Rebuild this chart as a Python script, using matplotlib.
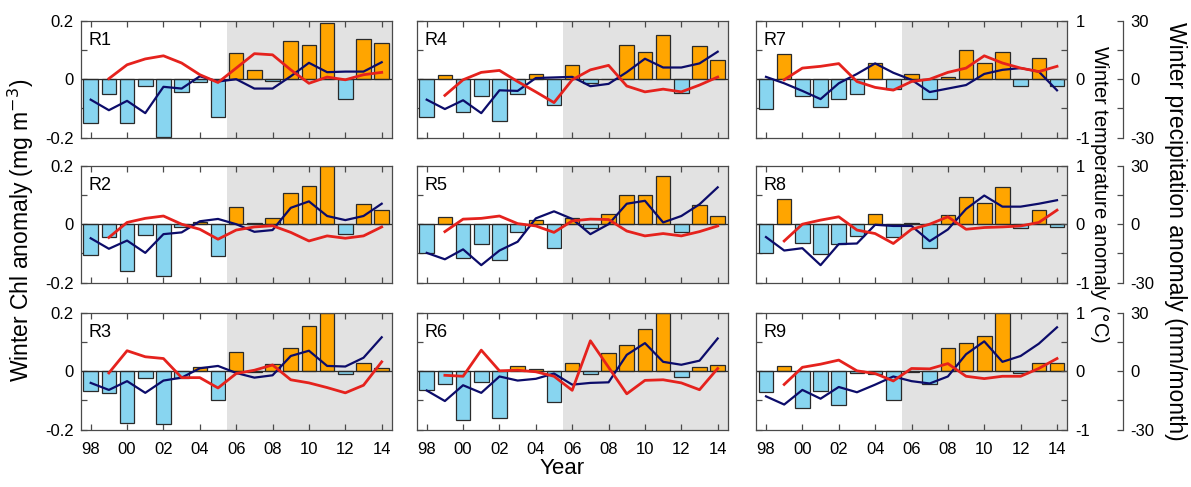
import matplotlib
matplotlib.use('Agg')
import matplotlib.pyplot as plt

plt.rcParams['font.family'] = ['Liberation Sans', 'DejaVu Sans']

years = list(range(1998, 2015))
rain_years = list(range(1999, 2015))
names = ['R1', 'R2', 'R3', 'R4', 'R5', 'R6', 'R7', 'R8', 'R9']

# winter Chl anomaly (mg m-3), 1998-2014
chl_R1 = [-0.149, -0.05, -0.151, -0.023, -0.197, -0.045, -0.008, -0.13, 0.089, 0.032, -0.007, 0.129, 0.117, 0.191, -0.069, 0.137, 0.125]
chl_R2 = [-0.105, -0.043, -0.159, -0.036, -0.176, -0.009, 0.009, -0.108, 0.06, 0.005, 0.022, 0.105, 0.131, 0.199, -0.034, 0.068, 0.05]
chl_R3 = [-0.067, -0.073, -0.177, -0.022, -0.179, -0.022, 0.013, -0.097, 0.064, -0.003, 0.026, 0.081, 0.154, 0.2, -0.008, 0.029, 0.011]
chl_R4 = [-0.129, 0.016, -0.111, -0.057, -0.142, -0.05, 0.017, -0.089, 0.049, -0.014, 0.002, 0.118, 0.092, 0.151, -0.048, 0.115, 0.067]
chl_R5 = [-0.097, 0.025, -0.114, -0.068, -0.123, -0.025, 0.015, -0.082, 0.02, -0.014, 0.036, 0.1, 0.1, 0.166, -0.028, 0.066, 0.027]
chl_R6 = [-0.065, -0.045, -0.166, -0.038, -0.159, 0.017, 0.007, -0.105, 0.029, -0.01, 0.063, 0.091, 0.143, 0.2, -0.019, 0.015, 0.021]
chl_R7 = [-0.103, 0.087, -0.056, -0.094, -0.067, -0.05, 0.055, -0.034, 0.018, -0.069, 0.007, 0.099, 0.055, 0.092, -0.023, 0.072, -0.023]
chl_R8 = [-0.097, 0.085, -0.063, -0.102, -0.066, -0.04, 0.034, -0.043, 0.005, -0.082, 0.032, 0.093, 0.074, 0.127, -0.014, 0.05, -0.009]
chl_R9 = [-0.071, 0.017, -0.125, -0.067, -0.117, -0.006, -0.008, -0.097, -0.003, -0.045, 0.078, 0.095, 0.12, 0.2, -0.006, 0.029, 0.029]

# winter temperature anomaly (degC), 1998-2014
temp_R1 = [-0.35, -0.53, -0.37, -0.58, -0.13, -0.16, 0.05, -0.04, 0.0, -0.16, -0.16, 0.05, 0.28, 0.12, 0.13, 0.13, 0.29]
temp_R2 = [-0.24, -0.42, -0.28, -0.49, -0.17, -0.14, 0.05, 0.09, 0.0, -0.13, -0.10, 0.28, 0.39, 0.14, 0.07, 0.14, 0.35]
temp_R3 = [-0.20, -0.32, -0.17, -0.37, -0.16, -0.11, 0.05, 0.09, -0.03, -0.11, -0.07, 0.26, 0.35, 0.09, 0.08, 0.23, 0.58]
temp_R4 = [-0.35, -0.51, -0.36, -0.58, -0.19, -0.20, 0.02, 0.03, 0.04, -0.12, -0.08, 0.12, 0.35, 0.20, 0.20, 0.27, 0.47]
temp_R5 = [-0.49, -0.60, -0.43, -0.70, -0.45, -0.30, 0.10, 0.22, 0.09, -0.17, 0.0, 0.35, 0.40, 0.03, 0.14, 0.34, 0.63]
temp_R6 = [-0.33, -0.51, -0.24, -0.37, -0.09, -0.16, -0.13, -0.04, -0.23, -0.20, -0.19, 0.28, 0.48, 0.16, 0.11, 0.18, 0.56]
temp_R7 = [0.04, -0.07, -0.20, -0.34, -0.07, 0.09, 0.27, 0.11, -0.01, -0.22, -0.16, -0.10, 0.09, 0.16, 0.19, 0.13, -0.19]
temp_R8 = [-0.22, -0.45, -0.41, -0.70, -0.34, -0.33, -0.01, -0.03, -0.03, -0.29, -0.09, 0.26, 0.49, 0.30, 0.30, 0.35, 0.41]
temp_R9 = [-0.43, -0.57, -0.32, -0.47, -0.27, -0.36, -0.23, -0.09, -0.17, -0.21, -0.09, 0.29, 0.51, 0.16, 0.26, 0.47, 0.75]

# winter precipitation anomaly (mm/month), 1999-2014
prec_R1 = [0.3, 7.4, 10.4, 12.0, 8.3, 2.3, -1.7, 5.7, 13.1, 12.5, 4.8, -2.1, 1.1, -0.3, 2.3, 3.5]
prec_R2 = [-6.8, 0.9, 3.0, 4.2, 0.0, -2.6, -7.7, -3.0, -1.4, -0.8, -4.2, -8.6, -6.0, -7.2, -6.0, -1.4]
prec_R3 = [-0.9, 10.5, 7.4, 6.5, -3.3, -3.3, -8.6, -1.2, 0.5, 3.2, -4.4, -6.0, -8.4, -11.1, -7.2, 4.8]
prec_R4 = [-8.3, -0.3, 3.5, 4.5, -1.2, -6.5, -12.0, -0.3, 4.8, 7.1, -3.5, -6.5, -5.1, -6.5, -3.0, 1.1]
prec_R5 = [-3.8, 2.6, 3.0, 4.2, 0.3, -0.9, -4.2, 1.7, 2.6, 2.4, -3.5, -6.0, -4.8, -6.0, -3.8, -0.9]
prec_R6 = [-2.1, -2.6, 10.8, 0.2, 0.5, -0.3, -2.6, -9.8, 15.6, 2.0, -11.6, -4.7, -4.4, -6.0, -9.5, 1.4]
prec_R7 = [-0.3, 5.7, 6.6, 8.0, -1.2, -4.2, -5.6, -1.2, 0.0, 3.5, 5.7, 12.0, 8.3, 5.7, 3.9, 6.6]
prec_R8 = [-8.6, 0.0, 2.1, 3.8, -3.0, -4.8, -9.9, -2.6, 0.0, 3.8, -2.6, -1.7, -1.4, -0.9, 0.9, 7.2]
prec_R9 = [-6.8, 2.0, 3.6, 5.7, 0.2, -1.2, -5.0, 1.4, 1.2, 3.9, -2.6, -3.8, -2.6, -2.6, 1.4, 6.5]

chl_all = [chl_R1, chl_R2, chl_R3, chl_R4, chl_R5, chl_R6, chl_R7, chl_R8, chl_R9]
temp_all = [temp_R1, temp_R2, temp_R3, temp_R4, temp_R5, temp_R6, temp_R7, temp_R8, temp_R9]
prec_all = [prec_R1, prec_R2, prec_R3, prec_R4, prec_R5, prec_R6, prec_R7, prec_R8, prec_R9]

W, H = 1191, 487
fig = plt.figure(figsize=(W / 100, H / 100), dpi=100)

lefts = [80.7, 416.7, 756]
tops = [20.7, 165.7, 312.7]
aw, ah = 311, 117
spine_col = '#4a4a4a'

for i, name in enumerate(names):
    col = i // 3
    row = i % 3
    ax = fig.add_axes([lefts[col] / W, 1 - (tops[row] + ah) / H, aw / W, ah / H])
    ax.axvspan(2005.5, 2015, color='#e2e2e2', lw=0, zorder=0)
    colors = ['#ffa500' if v > 0 else '#88d5f0' for v in chl_all[i]]
    ax.bar(years, chl_all[i], 0.8, color=colors, edgecolor='#2a2a2a', linewidth=0.9, zorder=2)
    ax.axhline(0, color='#2a2a2a', lw=0.9, zorder=2.5)
    ax.set_xlim(1997.45, 2014.55)
    ax.set_ylim(-0.2, 0.2)
    ax.set_xticks(range(1998, 2015, 2))
    if row == 2:
        ax.set_xticklabels(['98', '00', '02', '04', '06', '08', '10', '12', '14'])
    else:
        ax.set_xticklabels([])
    ax.set_yticks([-0.2, -0.1, 0, 0.1, 0.2])
    if col == 0:
        ax.set_yticklabels(['-0.2', '', '0', '', '0.2'])
    else:
        ax.set_yticklabels([])
    ax.tick_params(direction='in', top=True, right=(col < 2), length=4, labelsize=12,
                   color=spine_col, width=0.9)
    ax.tick_params(axis='x', pad=9)
    ax.tick_params(axis='y', pad=5)
    for sp in ax.spines.values():
        sp.set_color(spine_col)
        sp.set_linewidth(0.9)
    ax.text(0.025, 0.9, name, transform=ax.transAxes, fontsize=13, va='top', zorder=5)

    ax2 = ax.twinx()
    ax2.plot(years, temp_all[i], color='#0c0c6a', lw=1.6)
    ax2.set_ylim(-1, 1)
    ax3 = ax.twinx()
    ax3.plot(rain_years, prec_all[i], color='#e5221d', lw=2.0)
    ax3.set_ylim(-30, 30)
    for sp in list(ax2.spines.values()) + list(ax3.spines.values()):
        sp.set_visible(False)
    if col < 2:
        ax2.set_yticks([])
        ax3.set_yticks([])
    else:
        ax2.set_yticks([-1, -0.5, 0, 0.5, 1])
        ax2.set_yticklabels(['-1', '', '0', '', '1'])
        ax2.tick_params(direction='in', length=4, labelsize=12, color=spine_col, width=0.9, pad=6)
        ax3.spines['right'].set_visible(True)
        ax3.spines['right'].set_position(('axes', 1.181))
        ax3.spines['right'].set_color(spine_col)
        ax3.spines['right'].set_linewidth(0.9)
        ax3.set_yticks([-30, -15, 0, 15, 30])
        ax3.set_yticklabels(['-30', '', '0', '', '30'])
        ax3.tick_params(direction='in', length=4, labelsize=12, color=spine_col, width=0.9, pad=5)

fig.text(21 / W, 1 - 230 / H, 'Winter Chl anomaly (mg m$^{-3}$)', rotation=90,
         ha='center', va='center', fontsize=16.5)
fig.text(562 / W, 1 - 468 / H, 'Year', ha='center', va='center', fontsize=16)
fig.text(1100 / W, 1 - 194 / H, 'Winter temperature anomaly ($\\degree$C)', rotation=270,
         ha='center', va='center', fontsize=14.5)
fig.text(1176 / W, 1 - 231 / H, 'Winter precipitation anomaly (mm/month)', rotation=270,
         ha='center', va='center', fontsize=16.5)

fig.savefig('out.png', dpi=100)
